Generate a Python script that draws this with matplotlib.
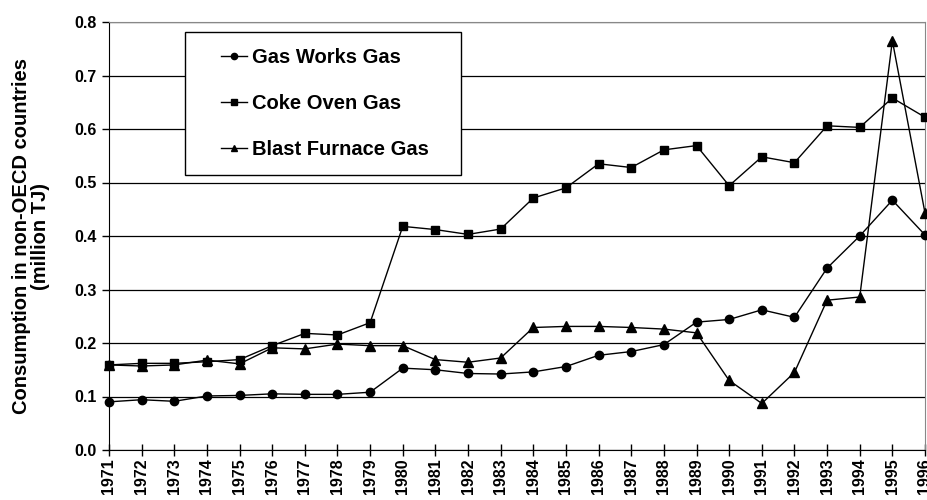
import matplotlib
matplotlib.use("Agg")
import matplotlib.pyplot as plt
from matplotlib.lines import Line2D
from matplotlib.legend_handler import HandlerLine2D

plt.rcParams['font.family'] = ['Liberation Sans', 'DejaVu Sans']
plt.rcParams['font.weight'] = 'bold'

years = list(range(1971, 1997))

gas_works = [0.090, 0.094, 0.091, 0.101, 0.102, 0.105, 0.104, 0.104, 0.108, 0.153,
             0.150, 0.143, 0.142, 0.146, 0.156, 0.177, 0.184, 0.197, 0.239, 0.244,
             0.262, 0.248, 0.340, 0.400, 0.467, 0.402]
coke_oven = [0.159, 0.162, 0.162, 0.165, 0.169, 0.195, 0.218, 0.215, 0.238, 0.418,
             0.412, 0.403, 0.413, 0.471, 0.490, 0.535, 0.528, 0.561, 0.569, 0.494,
             0.548, 0.537, 0.606, 0.603, 0.658, 0.622]
blast_furnace = [0.159, 0.157, 0.159, 0.168, 0.161, 0.191, 0.189, 0.198, 0.195, 0.195,
                 0.169, 0.164, 0.172, 0.229, 0.231, 0.231, 0.229, 0.226, 0.219, 0.130,
                 0.087, 0.145, 0.280, 0.286, 0.765, 0.443]

fig = plt.figure(figsize=(9.27, 5.0), dpi=100)
ax = fig.add_axes([109 / 927, 0.1, 816 / 927, 0.856])

ax.plot(years, gas_works, '-o', color='black', lw=1, ms=6, label='Gas Works Gas', clip_on=False, zorder=3)
ax.plot(years, coke_oven, '-s', color='black', lw=1, ms=5.5, label='Coke Oven Gas', clip_on=False, zorder=3)
ax.plot(years, blast_furnace, '-^', color='black', lw=1, ms=6.5, label='Blast Furnace Gas', clip_on=False, zorder=3)

ax.set_xlim(1971, 1996)
ax.set_ylim(0, 0.8)
ax.set_xticks(years)
ax.set_xticklabels([str(y) for y in years], rotation=90, fontsize=11.5, fontweight='bold')
ax.set_yticks([i / 10 for i in range(9)])
ax.set_yticklabels([f"{i / 10:.1f}" for i in range(9)], fontsize=11.5, fontweight='bold')
ax.tick_params(axis='x', direction='inout', length=8, width=1, pad=2)
ax.tick_params(axis='y', direction='out', length=5, width=1, pad=4)

ax.grid(axis='y', color='black', lw=0.9)
ax.set_axisbelow(True)
for s in ['top', 'right']:
    ax.spines[s].set_color('#888888')
for s in ['left', 'bottom']:
    ax.spines[s].set_color('black')

ax.set_ylabel("Consumption in non-OECD countries\n(million TJ)", fontsize=14.5,
              fontweight='bold', linespacing=1.0)
ax.yaxis.set_label_coords(-0.072, 0.5)

leg = ax.legend(loc='upper left', bbox_to_anchor=(0.093, 0.65, 0.338, 0.327), mode='expand',
                borderaxespad=0, fancybox=False, framealpha=1, edgecolor='black', fontsize=14.5,
                handlelength=2.3, handletextpad=0.25, labelspacing=1.35, borderpad=0.8,
                markerscale=0.75, handler_map={Line2D: HandlerLine2D(xpad=1.0)})
leg.get_frame().set_linewidth(1)
leg.set_zorder(5)

fig.savefig("out.png", dpi=100)
